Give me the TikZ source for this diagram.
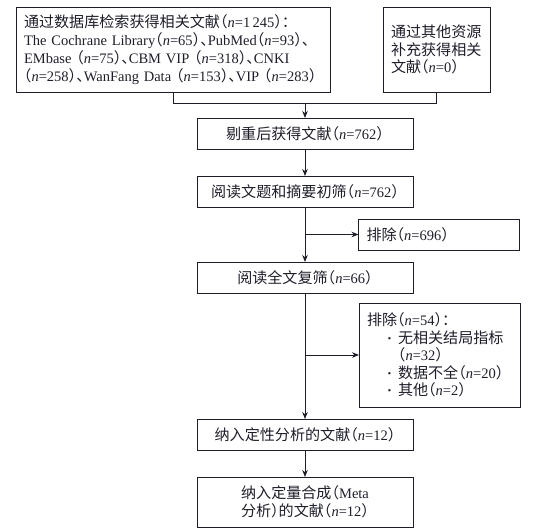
\documentclass[tikz,border=0pt]{standalone}
\usepackage{fontspec}
\usepackage{tikz}
\usetikzlibrary{arrows.meta,positioning}
\setmainfont{Liberation Serif}
\newfontfamily\cjk[Scale=1.04]{Noto Sans CJK SC}
\newfontfamily\cjkp[Scale=1.04,RawFeature=+halt]{Noto Sans CJK SC}
\definecolor{ink}{RGB}{30,30,42}
\newcommand{\zh}[1]{{\cjk #1}}
\newcommand{\pz}[1]{{\cjkp #1}}
\newcommand{\cnt}[1]{\pz{（}\textit{n}=#1\pz{）}}
\newcommand{\itm}{\hspace*{20pt}\makebox[11pt][l]{\textbf{·}}}

\begin{document}
\begin{tikzpicture}[
  x=1pt, y=1pt,
  font=\fontsize{14.5}{17.5}\selectfont, text=ink,
  box/.style={draw=ink, line width=1pt, align=center, inner sep=0pt, outer sep=0pt,
              minimum width=216pt, minimum height=31pt},
  note/.style={draw=ink, line width=1pt, align=left, inner xsep=8pt, inner ysep=0pt, outer sep=0pt},
  arrow/.style={-{Stealth[length=7pt,width=5.5pt]}, line width=0.8pt, draw=ink}]
  \useasboundingbox (0,0) rectangle (544,-530);
  % sources
  \node[note, text width=298pt, minimum height=85pt, font=\fontsize{14.5}{18}\selectfont] (db) at (173,-49.5)
    {\zh{通过数据库检索获得相关文献}\cnt{1\,245}\pz{：}\\
     The Cochrane Library\cnt{65}\pz{、}PubMed\cnt{93}\pz{、}\\
     EMbase \cnt{75}\pz{、}CBM VIP \cnt{318}\pz{、}CNKI\\
     \cnt{258}\pz{、}WanFang Data \cnt{153}\pz{、}VIP \cnt{283}};
  \node[note, text width=91pt, minimum height=85pt] (other) at (436.5,-49.5)
    {\zh{通过其他资源}\\ \zh{补充获得相关}\\ \zh{文献}\cnt{0}};
  \coordinate (join) at (305,-103);
  % main chain
  \node[box] (dedup) at (305,-133.5) {\zh{剔重后获得文献}\cnt{762}};
  \node[box, below=27pt of dedup] (title) {\zh{阅读文题和摘要初筛}\cnt{762}};
  \node[box, below=55pt of title] (full) {\zh{阅读全文复筛}\cnt{66}};
  \node[box, below=126pt of full] (qual) {\zh{纳入定性分析的文献}\cnt{12}};
  \node[box, below=27pt of qual, minimum height=50pt] (meta)
    {\zh{纳入定量合成}\pz{（}Meta\\ \zh{分析}\pz{）}\zh{的文献}\cnt{12}};
  % exclusions
  \node[note, text width=145pt, minimum height=31pt] (ex1) at (439,-234.5)
    {\zh{排除}\cnt{696}};
  \node[note, text width=145pt, minimum height=104pt] (ex2) at (439.5,-355)
    {\zh{排除}\pz{（}\textit{n}=54\pz{）：}\\
     \itm\zh{无相关结局指标}\\
     \hspace*{31pt}\cnt{32}\\
     \itm\zh{数据不全}\cnt{20}\\
     \itm\zh{其他}\cnt{2}};
  \draw[line width=0.8pt, draw=ink] (db.south) |- (join);
  \draw[line width=0.8pt, draw=ink] (other.south) |- (join);
  \draw[arrow] (join) -- (dedup);
  \draw[arrow] (dedup) -- (title);
  \draw[arrow] (title) -- (full);
  \draw[arrow] (title.south |- ex1.west) -- (ex1);
  \draw[arrow] (full) -- (qual);
  \draw[arrow] (full.south |- ex2.west) -- (ex2);
  \draw[arrow] (qual) -- (meta);
\end{tikzpicture}
\end{document}
